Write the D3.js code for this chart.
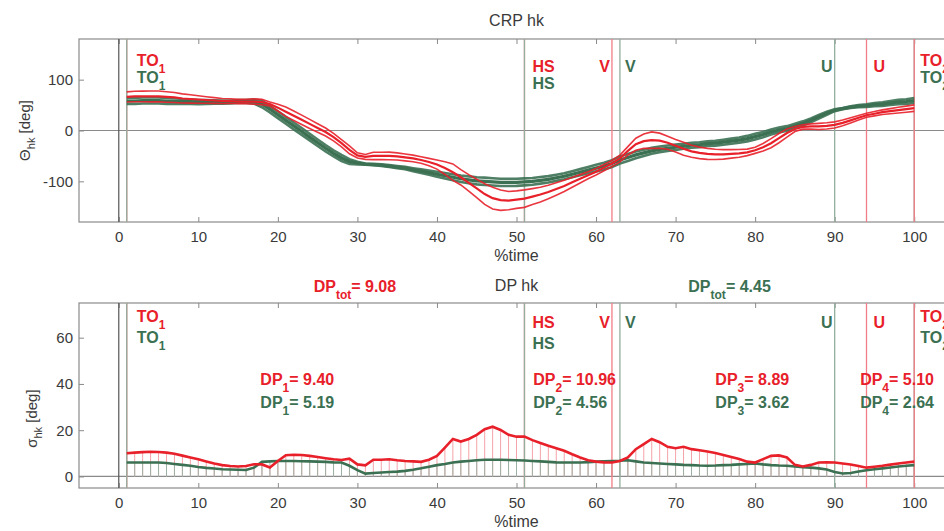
<!DOCTYPE html>
<html>
<head>
<meta charset="utf-8">
<style>
html, body { margin:0; padding:0; background:#fff; }
svg { display:block; font-family:"Liberation Sans", Arial, Helvetica, sans-serif; }
.tick text { fill:#3a3a3a; font-size:15px; }
</style>
</head>
<body>
<div id="chart"></div>
<script src="https://cdnjs.cloudflare.com/ajax/libs/d3/7.8.5/d3.min.js"></script>
<script>
// ---- data (1..100 %time) ----
const time = d3.range(1, 101);

const redMean = [66,67,67,67,67,66,65,63,62,61, 60,59,58,58,57,57,57,56,52,45,
  37,29,21,13,5,-3,-13,-25,-38,-49, -52,-50,-50,-50,-51,-53,-55,-58,-62,-67,
  -74,-82,-92,-103,-114,-125,-133,-137,-138,-136, -134,-130,-126,-121,-115,-109,-102,-95,-88,-81,
  -73,-65,-55,-40,-27,-21,-19,-20,-24,-30, -36,-41,-44,-46,-47,-47,-46,-45,-43,-39,
  -33,-25,-15,-5,3,7,8,8,9,11, 15,20,25,30,33,36,38,40,42,44];

const redSd = [10.0,10.3,10.5,10.7,10.6,10.3,9.8,9.0,8.2,7.4, 6.5,5.6,4.9,4.5,4.3,4.5,5.3,5.2,3.9,6.7,
  9.2,9.4,9.3,8.9,8.4,7.9,7.4,7.1,7.7,5.2, 4.8,7.2,7.2,7.4,7.0,6.7,6.5,6.3,7.2,8.9,
  12.5,16.2,15.1,16.2,18.0,20.4,21.5,20.1,18.0,17.2, 17.2,15.7,14.5,13.3,12.2,11.1,9.6,8.2,7.0,6.4,
  6.1,6.0,6.7,8.2,11.8,14.0,16.2,14.8,12.8,12.2, 12.8,11.8,11.3,10.8,10.1,9.3,8.4,7.5,6.4,6.0,
  7.5,8.9,9.1,8.2,5.0,4.3,5.0,6.0,6.1,6.0, 5.6,5.2,4.5,3.8,4.2,4.6,5.1,5.6,6.0,6.4];

const greenMean = [58,58,59,59,59,58,58,57,57,56, 56,56,56,56,57,57,57,52,42,31,
  20,9,-2,-13,-24,-35,-45,-54,-61,-64, -66,-67,-68,-70,-72,-74,-77,-80,-83,-86,
  -89,-92,-95,-97,-99,-100,-101,-102,-102,-102, -101,-100,-98,-96,-93,-90,-86,-82,-78,-74,
  -70,-65,-58,-53,-48,-44,-40,-37,-35,-33, -31,-29,-28,-26,-25,-23,-21,-19,-16,-12,
  -8,-3,1,4,9,14,20,27,34,40, 43,46,48,49,51,52,54,56,57,59];

const greenSd = [6.0,6.0,6.0,6.0,6.0,5.8,5.4,5.0,4.6,4.1, 3.7,3.4,3.1,3.0,2.9,2.8,3.8,6.3,6.5,6.7,
  6.7,6.7,6.6,6.5,6.4,6.3,6.1,6.0,4.6,2.7, 1.2,1.5,1.7,1.9,2.1,2.4,2.9,3.5,4.2,4.9,
  5.4,6.0,6.4,6.7,7.0,7.2,7.2,7.2,7.1,7.0, 6.9,6.7,6.5,6.3,6.1,6.0,6.0,6.0,6.2,6.4,
  6.6,6.7,6.8,7.0,6.5,6.0,5.8,5.6,5.4,5.2, 5.0,4.9,4.7,4.6,4.7,4.9,5.0,5.2,5.4,5.6,
  5.2,4.9,4.7,4.6,4.3,4.0,3.8,3.5,3.0,1.9, 1.3,1.5,2.1,2.7,3.1,3.5,3.9,4.3,4.6,4.9];

// gait events (%time)
const redEvents   = [{t:1, lab:"TO", sub:"1"}, {t:51, lab:"HS"}, {t:62, lab:"V"}, {t:94, lab:"U"}, {t:100, lab:"TO", sub:"2"}];
const greenEvents = [{t:1, lab:"TO", sub:"1"}, {t:51, lab:"HS"}, {t:63, lab:"V"}, {t:90, lab:"U"}, {t:100, lab:"TO", sub:"2"}];

// DP values per phase and total
const dpRed   = ["9.40", "10.96", "8.89", "5.10"];
const dpGreen = ["5.19", "4.56", "3.62", "2.64"];
const dpTotRed = "9.08", dpTotGreen = "4.45";

const xTicks = [0,10,20,30,40,50,60,70,80,90,100];
const yTicksTop = [-100, 0, 100];
const yTicksBot = [0, 20, 40, 60];

// ---- styles ----
const RED = "#e8202a", GREEN = "#3b7052";
const RED_EV = "#f27d86", GREEN_EV = "#93ae9d";
const W = 944, H = 531;

const svg = d3.select("#chart").append("svg").attr("width", W).attr("height", H);

const x = d3.scaleLinear().domain([-5, 105]).range([79, 954]);
const yTop = d3.scaleLinear().domain([-180, 180]).range([222, 39]);
const yBot = d3.scaleLinear().domain([-5, 75]).range([488, 303]);

function panel(y, yTicks, title, titleY) {
  const g = svg.append("g");
  const [y0, y1] = y.range();
  g.append("rect").attr("x", x(-5)).attr("y", y1).attr("width", x(105) - x(-5)).attr("height", y0 - y1)
    .attr("fill", "none").attr("stroke", "#8a8a8a").attr("stroke-width", 1.2);
  // axes with inward ticks
  const ax = g.append("g").attr("transform", `translate(0,${y0})`)
    .call(d3.axisBottom(x).tickValues(xTicks).tickSize(-5).tickPadding(9));
  ax.select(".domain").remove();
  ax.selectAll(".tick line").attr("stroke", "#8a8a8a");
  const axT = g.append("g").attr("transform", `translate(0,${y1})`)
    .call(d3.axisTop(x).tickValues(xTicks).tickSize(-5).tickFormat(""));
  axT.select(".domain").remove();
  axT.selectAll(".tick line").attr("stroke", "#8a8a8a");
  const ay = g.append("g").attr("transform", `translate(${x(-5)},0)`)
    .call(d3.axisLeft(y).tickValues(yTicks).tickSize(-5).tickPadding(6).tickFormat(d => String(d)));
  ay.select(".domain").remove();
  ay.selectAll(".tick line").attr("stroke", "#8a8a8a");
  // zero lines
  g.append("line").attr("x1", x(-5)).attr("x2", x(105)).attr("y1", y(0)).attr("y2", y(0))
    .attr("stroke", "#8a8a8a").attr("stroke-width", 1.2);
  g.append("line").attr("x1", x(0)).attr("x2", x(0)).attr("y1", y0).attr("y2", y1)
    .attr("stroke", "#555").attr("stroke-width", 1.2);
  g.append("text").attr("x", x(50)).attr("y", titleY).attr("text-anchor", "middle")
    .attr("font-size", 16).attr("fill", "#3a3a3a").text(title);
  g.append("text").attr("x", x(50)).attr("y", y0 + 39).attr("text-anchor", "middle")
    .attr("font-size", 16).attr("fill", "#3a3a3a").text("%time");
  return g;
}

function subText(g, xPos, yPos, color, parts, anchor) {
  const t = g.append("text").attr("x", xPos).attr("y", yPos).attr("fill", color)
    .attr("font-size", 16).attr("font-weight", "bold").attr("text-anchor", anchor || "start");
  parts.forEach(p => {
    if (p.sub) t.append("tspan").attr("font-size", 12).attr("dy", 7).text(p.sub);
    else t.append("tspan").attr("dy", p.up ? -7 : 0).text(p.s);
  });
  return t;
}

function events(g, y, redY, greenY) {
  const [y0, y1] = y.range();
  // red lines underneath, green on top (shared times show the green line), TO2 red on top
  const all = redEvents.filter(e => e.t !== 100).map(e => ({...e, c: RED_EV}))
    .concat(greenEvents.map(e => ({...e, c: GREEN_EV})))
    .concat(redEvents.filter(e => e.t === 100).map(e => ({...e, c: RED_EV})));
  g.selectAll(null).data(all).enter().append("line")
    .attr("x1", d => x(d.t)).attr("x2", d => x(d.t)).attr("y1", y0).attr("y2", y1)
    .attr("stroke", d => d.c).attr("stroke-width", 1.3);
  const place = (e, color, yy, isRed) => {
    let xp = x(e.t) + 8, anchor = "start", yy2 = yy;
    if (e.lab === "TO") xp = x(e.t) + (e.t === 1 ? 10 : 6);
    if (e.lab === "HS") { xp = x(e.t) + 8; yy2 = yy + 6; }
    if (e.lab === "V") { if (isRed) { xp = x(e.t) - 2; anchor = "end"; } else xp = x(e.t) + 5; }
    if (e.lab === "U") { if (isRed) xp = x(e.t) + 7; else { xp = x(e.t) - 2; anchor = "end"; } }
    if (e.lab === "V" || e.lab === "U") yy2 = (isRed ? yy : yy - (greenY - redY)) + 6;
    const parts = e.sub ? [{s: e.lab}, {sub: e.sub}] : [{s: e.lab}];
    subText(g, xp, yy2, color, parts, anchor);
  };
  redEvents.forEach(e => place(e, RED, redY, true));
  greenEvents.forEach(e => place(e, GREEN, greenY, false));
}

// ---- top panel: CRP ----
const gTop = panel(yTop, yTicksTop, "CRP hk", 26);
events(gTop, yTop, 66, 83);

const lineTop = arr => d3.line().x((d, i) => x(time[i])).y(d => yTop(d))(arr);
const bands = [
  {m: greenMean, s: greenSd, c: GREEN, w: 2.6},
  {m: redMean, s: redSd, c: RED, w: 1.6}
];
bands.forEach(b => {
  [1, -1].forEach(k => {
    gTop.append("path").attr("d", lineTop(b.m.map((v, i) => v + k * b.s[i])))
      .attr("fill", "none").attr("stroke", b.c).attr("stroke-width", b.w).attr("opacity", 0.9);
  });
  gTop.append("path").attr("d", lineTop(b.m))
    .attr("fill", "none").attr("stroke", b.c).attr("stroke-width", b.w + 0.6);
});

const yl1 = gTop.append("text").attr("transform", `translate(30,${yTop(0)}) rotate(-90)`)
  .attr("text-anchor", "middle").attr("font-size", 15).attr("fill", "#3a3a3a");
yl1.append("tspan").text("Θ");
yl1.append("tspan").attr("font-size", 11).attr("dy", 5).text("hk");
yl1.append("tspan").attr("dy", -5).text(" [deg]");

// ---- bottom panel: DP ----
const gBot = panel(yBot, yTicksBot, "DP hk", 291);

gBot.selectAll(null).data(time).enter().append("line")
  .attr("x1", d => x(d)).attr("x2", d => x(d))
  .attr("y1", yBot(0)).attr("y2", (d, i) => yBot(redSd[i]))
  .attr("stroke", "#f4a3aa").attr("stroke-width", 1);
gBot.selectAll(null).data(time).enter().append("line")
  .attr("x1", d => x(d)).attr("x2", d => x(d))
  .attr("y1", yBot(0)).attr("y2", (d, i) => yBot(greenSd[i]))
  .attr("stroke", "#9cb2a4").attr("stroke-width", 1);

events(gBot, yBot, 322, 343);

const lineBot = d3.line().x((d, i) => x(time[i])).y(d => yBot(d));
gBot.append("path").attr("d", lineBot(greenSd)).attr("fill", "none").attr("stroke", GREEN).attr("stroke-width", 2.6);
gBot.append("path").attr("d", lineBot(redSd)).attr("fill", "none").attr("stroke", RED).attr("stroke-width", 2.6);

const dpX = [17.8, 52.1, 75, 93.2];
dpRed.forEach((v, i) => subText(gBot, x(dpX[i]), 385, RED, [{s: "DP"}, {sub: String(i + 1)}, {s: "= " + v, up: true}]));
dpGreen.forEach((v, i) => subText(gBot, x(dpX[i]), 408, GREEN, [{s: "DP"}, {sub: String(i + 1)}, {s: "= " + v, up: true}]));
subText(gBot, x(24.5), 292, RED, [{s: "DP"}, {sub: "tot"}, {s: "= " + dpTotRed, up: true}]);
subText(gBot, x(71.6), 292, GREEN, [{s: "DP"}, {sub: "tot"}, {s: "= " + dpTotGreen, up: true}]);

const yl2 = gBot.append("text").attr("transform", `translate(37,${yBot(25)}) rotate(-90)`)
  .attr("text-anchor", "middle").attr("font-size", 15).attr("fill", "#3a3a3a");
yl2.append("tspan").text("σ");
yl2.append("tspan").attr("font-size", 11).attr("dy", 5).text("hk");
yl2.append("tspan").attr("dy", -5).text(" [deg]");
</script>
</body>
</html>
